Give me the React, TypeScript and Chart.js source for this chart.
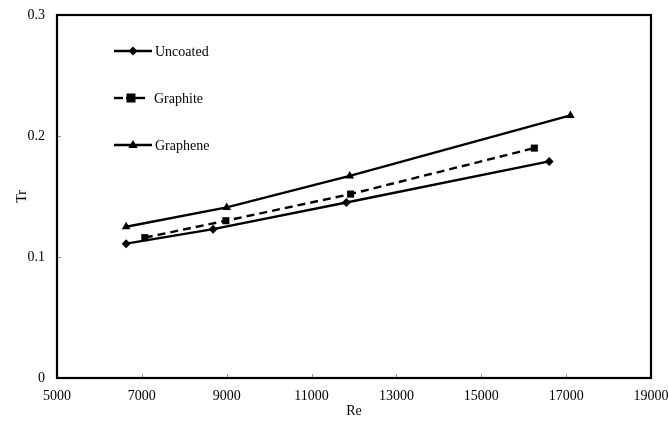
import React, { useEffect, useRef } from "react";
import { Chart, registerables } from "chart.js";

Chart.register(...registerables);

const seriesNames = ["Uncoated", "Graphite", "Graphene"];
const reUncoated = [6630, 8680, 11820, 16600];
const trUncoated = [0.111, 0.123, 0.145, 0.179];
const reGraphite = [7070, 8980, 11920, 16250];
const trGraphite = [0.116, 0.130, 0.152, 0.190];
const reGraphene = [6630, 9000, 11900, 17100];
const trGraphene = [0.125, 0.141, 0.167, 0.217];
const xTicks = [5000, 7000, 9000, 11000, 13000, 15000, 17000, 19000];
const yTicks = [0, 0.1, 0.2, 0.3];

const FONT = "'Liberation Serif', 'Times New Roman', serif";

function toPts(xs: number[], ys: number[]) {
  return xs.map((x, i) => ({ x, y: ys[i] }));
}

function drawMarker(ctx: CanvasRenderingContext2D, style: string, x: number, y: number) {
  ctx.save();
  ctx.fillStyle = "#000";
  ctx.beginPath();
  if (style === "rectRot") {
    const r = 4.5;
    ctx.moveTo(x, y - r);
    ctx.lineTo(x + r, y);
    ctx.lineTo(x, y + r);
    ctx.lineTo(x - r, y);
  } else if (style === "rect") {
    const r = 4.5;
    ctx.rect(x - r, y - r, 2 * r, 2 * r);
  } else {
    const r = 5;
    ctx.moveTo(x, y - r);
    ctx.lineTo(x + r * 0.95, y + r * 0.6);
    ctx.lineTo(x - r * 0.95, y + r * 0.6);
  }
  ctx.closePath();
  ctx.fill();
  ctx.restore();
}

const framePlugin = {
  id: "frameAndLegend",
  afterDraw(chart: any) {
    const { ctx, chartArea } = chart;
    const { left, right, top, bottom } = chartArea;
    const xs = chart.scales.x;
    const ys = chart.scales.y;
    ctx.save();
    // inward ticks
    ctx.strokeStyle = "#999";
    ctx.lineWidth = 1;
    xTicks.forEach((v) => {
      const px = Math.round(xs.getPixelForValue(v)) + 0.5;
      ctx.beginPath();
      ctx.moveTo(px, bottom);
      ctx.lineTo(px, bottom - 4);
      ctx.stroke();
    });
    yTicks.forEach((v) => {
      const py = Math.round(ys.getPixelForValue(v)) + 0.5;
      ctx.beginPath();
      ctx.moveTo(left, py);
      ctx.lineTo(left + 4, py);
      ctx.stroke();
    });
    // frame
    ctx.strokeStyle = "#000";
    ctx.lineWidth = 2.2;
    ctx.strokeRect(left, top, right - left, bottom - top);

    // legend
    const styles = ["rectRot", "rect", "triangle"];
    const rowY = [top + 36, top + 83, top + 130];
    const lx0 = left + 57;
    const lx1 = left + 95;
    ctx.font = `14px ${FONT}`;
    ctx.textBaseline = "middle";
    ctx.textAlign = "left";
    seriesNames.forEach((name, i) => {
      ctx.strokeStyle = "#000";
      ctx.lineWidth = 2.4;
      ctx.setLineDash([]);
      ctx.beginPath();
      if (i === 1) {
        ctx.moveTo(lx0, rowY[i]);
        ctx.lineTo(lx0 + 31, rowY[i]);
        ctx.stroke();
        ctx.strokeStyle = "#fff";
        ctx.lineWidth = 4;
        ctx.beginPath();
        ctx.moveTo(lx0 + 9, rowY[i]);
        ctx.lineTo(lx0 + 12, rowY[i]);
        ctx.moveTo(lx0 + 20, rowY[i]);
        ctx.lineTo(lx0 + 21, rowY[i]);
        ctx.stroke();
        drawMarker(ctx, styles[i], lx0 + 17, rowY[i]);
        ctx.fillStyle = "#000";
        ctx.fillText(name, lx1 + 2, rowY[i] + 1);
        return;
      }
      ctx.moveTo(lx0, rowY[i]);
      ctx.lineTo(lx1, rowY[i]);
      ctx.stroke();
      drawMarker(ctx, styles[i], (lx0 + lx1) / 2, rowY[i]);
      ctx.fillStyle = "#000";
      ctx.fillText(name, lx1 + 3, rowY[i] + 1);
    });
    ctx.restore();
  },
};

export default function App() {
  const ref = useRef<HTMLCanvasElement | null>(null);
  useEffect(() => {
    document.body.style.margin = "0";
    if (!ref.current) return;
    const common = {
      borderColor: "#000",
      backgroundColor: "#000",
      pointBackgroundColor: "#000",
      pointBorderColor: "#000",
      borderWidth: 2.4,
      pointBorderWidth: 0,
      fill: false,
      tension: 0,
    };
    const chart = new Chart(ref.current, {
      type: "scatter",
      data: {
        datasets: [
          { ...common, label: seriesNames[0], data: toPts(reUncoated, trUncoated), showLine: true, pointStyle: "rectRot", pointRadius: 4.5 },
          { ...common, label: seriesNames[1], data: toPts(reGraphite, trGraphite), showLine: true, borderDash: [8, 5], pointStyle: "rect", pointRadius: 5 },
          { ...common, label: seriesNames[2], data: toPts(reGraphene, trGraphene), showLine: true, pointStyle: "triangle", pointRadius: 5 },
        ],
      },
      options: {
        animation: false,
        responsive: false,
        layout: { padding: { top: 15, right: 17, left: 0, bottom: 0 } },
        plugins: { legend: { display: false }, tooltip: { enabled: false } },
        scales: {
          x: {
            type: "linear",
            min: 5000,
            max: 19000,
            afterBuildTicks: (s: any) => { s.ticks = xTicks.map((v) => ({ value: v })); },
            afterFit: (s: any) => { s.height = 46; s.paddingLeft = 0; s.paddingRight = 0; },
            grid: { display: false, drawTicks: false },
            border: { display: false },
            ticks: { color: "#000", font: { family: FONT, size: 14 }, padding: 10, maxRotation: 0, callback: (v: any) => String(v) },
            title: { display: true, text: "Re", color: "#000", font: { family: FONT, size: 14 }, padding: { top: 0, bottom: 4 } },
          },
          y: {
            type: "linear",
            min: 0,
            max: 0.3,
            afterBuildTicks: (s: any) => { s.ticks = yTicks.map((v) => ({ value: v })); },
            afterFit: (s: any) => { s.width = 57; s.paddingTop = 0; s.paddingBottom = 0; },
            grid: { display: false, drawTicks: false },
            border: { display: false },
            ticks: { color: "#000", font: { family: FONT, size: 14 }, padding: 12, callback: (v: any) => (v === 0 ? "0" : Number(v).toFixed(1)) },
            title: { display: true, text: "Tr", color: "#000", font: { family: FONT, size: 14 }, padding: { top: 14, bottom: 0 } },
          },
        },
      },
      plugins: [framePlugin],
    } as any);
    return () => chart.destroy();
  }, []);
  return (
    <div style={{ width: 668, height: 424, background: "#fff" }}>
      <canvas ref={ref} width={668} height={424} style={{ display: "block" }} />
    </div>
  );
}
